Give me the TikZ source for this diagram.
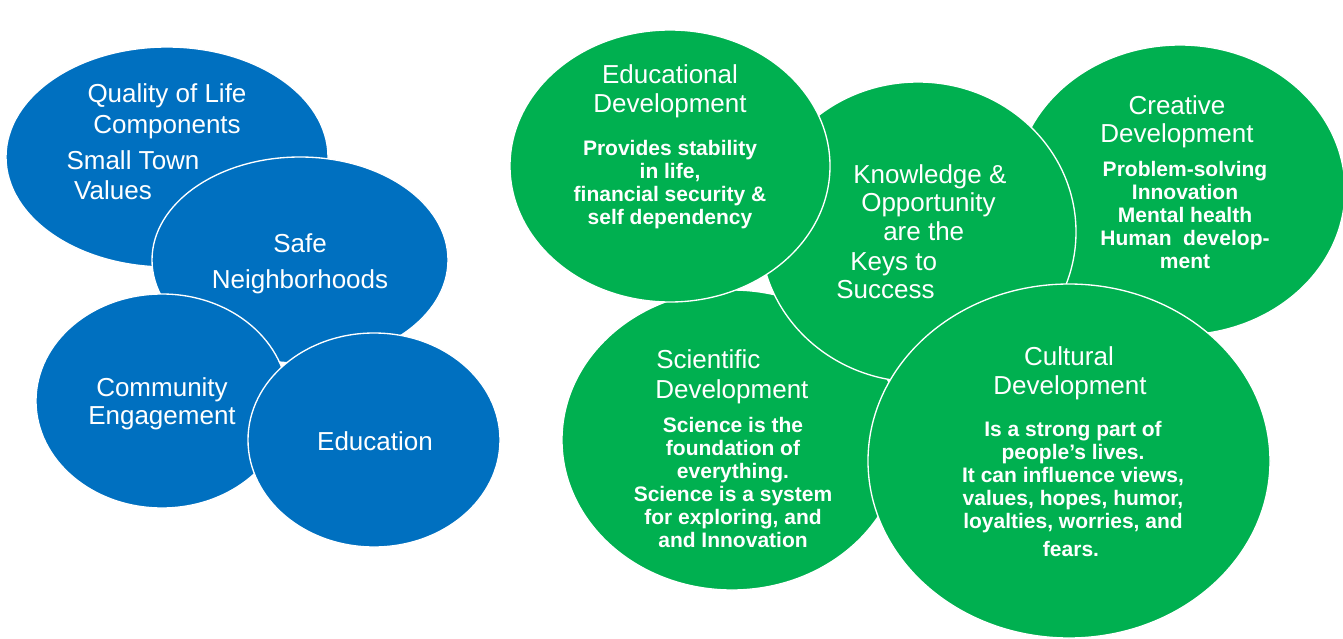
\documentclass[tikz,border=0pt]{standalone}
\usepackage{fontspec}
\setmainfont{Liberation Sans}
\usetikzlibrary{shapes.geometric}
\definecolor{qblue}{HTML}{0070C0}
\definecolor{qgreen}{HTML}{00B050}
\begin{document}
\begin{tikzpicture}[x=0.75pt,y=-0.75pt,
  bubble/.style={ellipse, draw=white, line width=1pt, inner sep=0pt, outer sep=0pt},
  bluebub/.style={bubble, fill=qblue},
  greenbub/.style={bubble, fill=qgreen},
  title/.style={text=white, font=\fontsize{19.5}{22.5}\selectfont, inner sep=0pt, anchor=base},
  titlew/.style={title, anchor=base west},
  body/.style={text=white, font=\fontsize{15.75}{17.25}\selectfont\bfseries, inner sep=0pt, anchor=base}]
\useasboundingbox (0,0) rectangle (1343,639);
\fill[white] (0,0) rectangle (1343,639);

% ---------------- blue group ----------------
\node[bluebub, minimum width=241.5pt, minimum height=165pt] (qol) at (167,157) {};
\node[bluebub, minimum width=222pt, minimum height=154.5pt] (safe) at (300,260) {};
\node[bluebub, minimum width=189pt, minimum height=160.5pt] (comm) at (162,401) {};
\node[bluebub, minimum width=189pt, minimum height=160.5pt] (educ) at (374,440) {};

\node[title] (qol-t1) at (167,102) {Quality of Life};
\node[title] (qol-t2) at (167,133) {Components};
\node[title] (qol-t3) at (133,169) {Small Town};
\node[title] (qol-t4) at (113,199) {Values};
\node[title] (safe-t1) at (300,252) {Safe};
\node[title] (safe-t2) at (300,288) {Neighborhoods};
\node[title] (comm-t1) at (162,396) {Community};
\node[title] (comm-t2) at (162,424) {Engagement};
\node[title] (educ-t1) at (375,450) {Education};

% ---------------- green group ----------------
\node[greenbub, minimum width=255pt, minimum height=225pt] (sci) at (732,440) {};
\node[greenbub, minimum width=247.5pt, minimum height=217.5pt] (cre) at (1180,190) {};
\node[greenbub, minimum width=237pt, minimum height=225pt] (kno) at (918,232) {};
\node[greenbub, minimum width=240pt, minimum height=204pt] (edu) at (670,166) {};
\node[greenbub, minimum width=301.5pt, minimum height=265.5pt] (cul) at (1069,461) {};

% Educational Development
\node[title] (edu-t1) at (670,83) {Educational};
\node[title] (edu-t2) at (670,112) {Development};
\foreach \t [count=\k from 0] in {Provides stability, {in life,}, {financial security \&}, self dependency}
  \node[body] (edu-b\k) at (670,{155+23*\k}) {\t};

% Knowledge & Opportunity
\node[titlew] (kno-t1) at (853,183) {Knowledge \&};
\node[titlew] (kno-t2) at (861,211) {Opportunity};
\node[titlew] (kno-t3) at (883,240) {are the};
\node[titlew] (kno-t4) at (850,270) {Keys to};
\node[titlew] (kno-t5) at (836,298) {Success};

% Creative Development
\node[title] (cre-t1) at (1177,114) {Creative};
\node[title] (cre-t2) at (1177,142) {Development};
\foreach \t [count=\k from 0] in {Problem-solving, Innovation, Mental health, Human\ \ develop-, ment}
  \node[body] (cre-b\k) at (1185,{176+23*\k}) {\t};

% Scientific Development
\node[titlew] (sci-t1) at (656,368) {Scientific};
\node[titlew] (sci-t2) at (655,398) {Development};
\foreach \t [count=\k from 0] in {Science is the, foundation of, everything., Science is a system, {for exploring, and}, and Innovation}
  \node[body] (sci-b\k) at (733,{432+23*\k}) {\t};

% Cultural Development
\node[title] (cul-t1) at (1069,365) {Cultural};
\node[title] (cul-t2) at (1070,394) {Development};
\foreach \t [count=\k from 0] in {Is a strong part of, people’s lives., {It can influence views,}, {values, hopes, humor,}, {loyalties, worries, and}}
  \node[body] (cul-b\k) at (1073,{436+23*\k}) {\t};
\node[body] (cul-b5) at (1071,556) {fears.};
\end{tikzpicture}
\end{document}
